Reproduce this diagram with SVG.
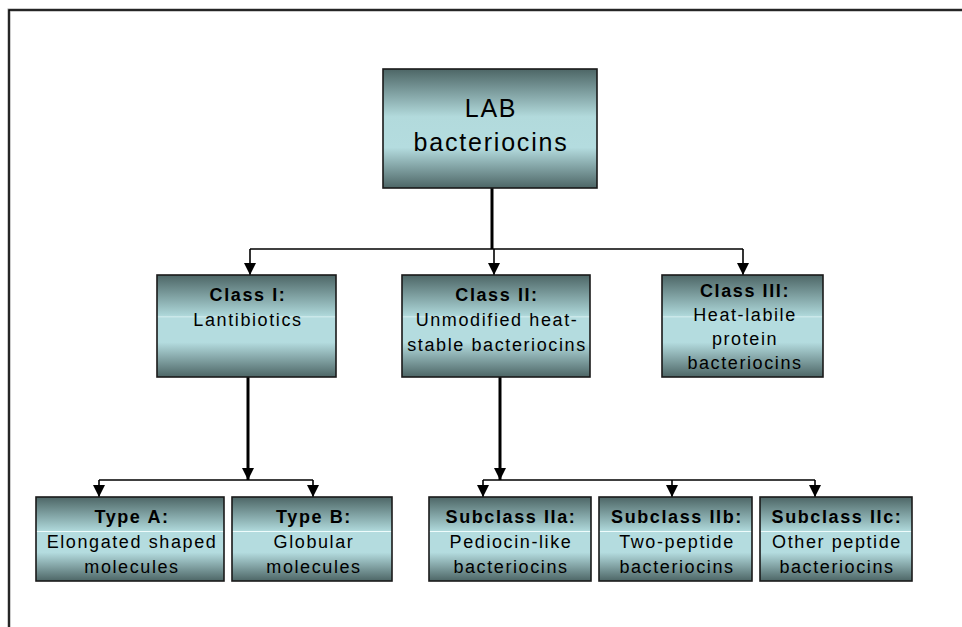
<svg xmlns="http://www.w3.org/2000/svg" width="962" height="627" viewBox="0 0 962 627">
<defs>
<linearGradient id="gBox" x1="0" y1="0" x2="0" y2="1">
<stop offset="0" stop-color="#4d6666"/>
<stop offset="0.38" stop-color="#a9d2d4"/>
<stop offset="0.405" stop-color="#b2dadc"/>
<stop offset="0.41" stop-color="#f4ffff"/>
<stop offset="0.418" stop-color="#b4dcdf"/>
<stop offset="0.66" stop-color="#b4dcdf"/>
<stop offset="1" stop-color="#4d6666"/>
</linearGradient>
<linearGradient id="gTop" x1="0" y1="0" x2="0" y2="1">
<stop offset="0" stop-color="#4d6666"/>
<stop offset="0.4" stop-color="#b2dadc"/>
<stop offset="0.66" stop-color="#b4dcdf"/>
<stop offset="1" stop-color="#4d6666"/>
</linearGradient>
<marker id="arr" markerUnits="userSpaceOnUse" markerWidth="12" markerHeight="12" viewBox="0 0 12 12" refX="12" refY="6" orient="auto">
<path d="M0,0 L12,6 L0,12 Z" fill="#000"/>
</marker>
</defs>
<style>
.box{stroke:#1a1a1a;stroke-width:1.6;fill:url(#gBox)}
.t{font-family:"Liberation Sans",Arial,sans-serif;font-size:18px;letter-spacing:1.6px;fill:#000;text-anchor:middle}
.b{font-weight:bold}
.main{stroke:#000;stroke-width:3;fill:none}
.thin{stroke:#000;stroke-width:1.6;fill:none}
</style>
<rect x="0" y="0" width="962" height="627" fill="#fff"/>
<g id="frame">
<path d="M9,627 V10 H962" fill="none" stroke="#9a9a9a" stroke-width="3"/>
<path d="M9,627 V10 H962" fill="none" stroke="#000" stroke-width="1.5"/>
</g>
<g id="connectors">
<path class="main" d="M492,188 V249"/>
<path class="thin" d="M250,249 H743"/>
<path class="thin" d="M250,249 V275" marker-end="url(#arr)"/>
<path class="thin" d="M494,249 V275" marker-end="url(#arr)"/>
<path class="thin" d="M743,249 V275" marker-end="url(#arr)"/>
<path class="main" d="M248,377 V480" marker-end="url(#arr)"/>
<path class="thin" d="M99,480 H313"/>
<path class="thin" d="M99,480 V497" marker-end="url(#arr)"/>
<path class="thin" d="M313,480 V497" marker-end="url(#arr)"/>
<path class="main" d="M500,377 V480" marker-end="url(#arr)"/>
<path class="thin" d="M483,480 H815"/>
<path class="thin" d="M483,480 V497" marker-end="url(#arr)"/>
<path class="thin" d="M672,480 V497" marker-end="url(#arr)"/>
<path class="thin" d="M815,480 V497" marker-end="url(#arr)"/>
</g>
<g id="lab">
<rect x="383" y="69" width="214" height="119" fill="url(#gTop)" stroke="#1a1a1a" stroke-width="1.6"/>
<text class="t" x="491" y="117" style="font-size:25px;letter-spacing:1.8px">LAB</text>
<text class="t" x="491" y="151" style="font-size:25px;letter-spacing:1.8px">bacteriocins</text>
</g>
<g id="class1">
<rect class="box" x="157" y="275" width="179" height="102"/>
<text class="t b" x="248" y="301">Class I:</text>
<text class="t" x="248" y="326">Lantibiotics</text>
</g>
<g id="class2">
<rect class="box" x="402" y="275" width="188" height="102"/>
<text class="t b" x="497" y="301">Class II:</text>
<text class="t" x="497" y="326">Unmodified heat-</text>
<text class="t" x="497" y="351">stable bacteriocins</text>
</g>
<g id="class3">
<rect class="box" x="662" y="275" width="161" height="102"/>
<text class="t b" x="745" y="297">Class III:</text>
<text class="t" x="745" y="321">Heat-labile</text>
<text class="t" x="745" y="345">protein</text>
<text class="t" x="745" y="369">bacteriocins</text>
</g>
<g id="typeA">
<rect class="box" x="36" y="497" width="188" height="84"/>
<text class="t b" x="132" y="523">Type A:</text>
<text class="t" x="132" y="548">Elongated shaped</text>
<text class="t" x="132" y="573">molecules</text>
</g>
<g id="typeB">
<rect class="box" x="232" y="497" width="160" height="84"/>
<text class="t b" x="314" y="523">Type B:</text>
<text class="t" x="314" y="548">Globular</text>
<text class="t" x="314" y="573">molecules</text>
</g>
<g id="sub2a">
<rect class="box" x="429" y="497" width="162" height="84"/>
<text class="t b" x="511" y="523">Subclass IIa:</text>
<text class="t" x="511" y="548">Pediocin-like</text>
<text class="t" x="511" y="573">bacteriocins</text>
</g>
<g id="sub2b">
<rect class="box" x="599" y="497" width="153" height="84"/>
<text class="t b" x="677" y="523">Subclass IIb:</text>
<text class="t" x="677" y="548">Two-peptide</text>
<text class="t" x="677" y="573">bacteriocins</text>
</g>
<g id="sub2c">
<rect class="box" x="760" y="497" width="152" height="84"/>
<text class="t b" x="837" y="523">Subclass IIc:</text>
<text class="t" x="837" y="548">Other peptide</text>
<text class="t" x="837" y="573">bacteriocins</text>
</g>
</svg>
